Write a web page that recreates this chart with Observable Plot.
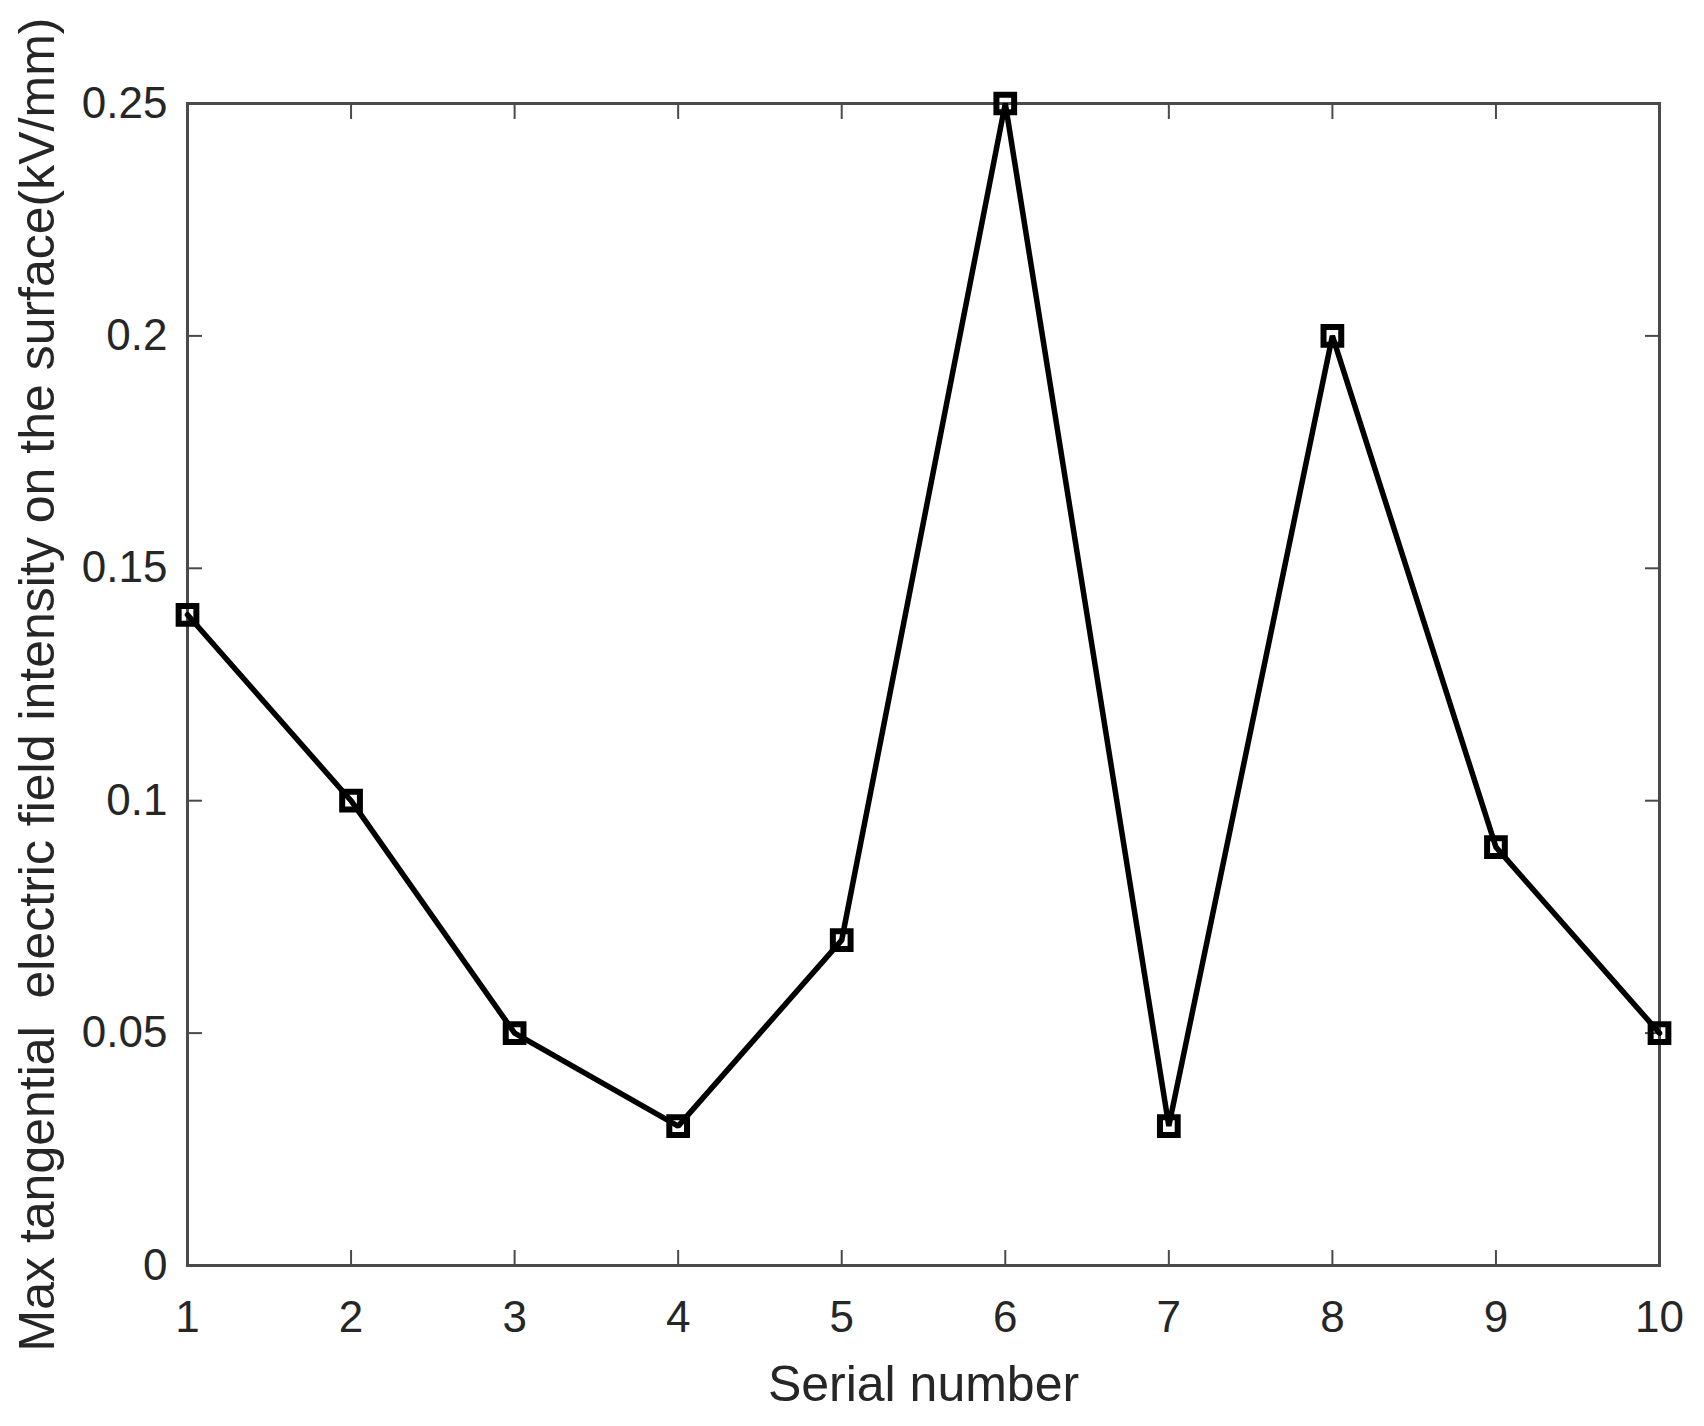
<!DOCTYPE html>
<html><head><meta charset="utf-8">
<script src="https://cdn.jsdelivr.net/npm/d3@7"></script>
<script src="https://cdn.jsdelivr.net/npm/@observablehq/plot@0.6"></script>
<style>
html,body{margin:0;padding:0;background:#fff;}
svg text{white-space:pre;}
</style></head><body><div id="chart"></div>
<script>
const serial = [1, 2, 3, 4, 5, 6, 7, 8, 9, 10];
const intensity = [0.14, 0.10, 0.05, 0.03, 0.07, 0.25, 0.03, 0.20, 0.09, 0.05];
const xTicks = [1, 2, 3, 4, 5, 6, 7, 8, 9, 10];
const xTickLabels = ["1", "2", "3", "4", "5", "6", "7", "8", "9", "10"];
const yTicks = [0, 0.05, 0.1, 0.15, 0.2, 0.25];
const yTickLabels = ["0", "0.05", "0.1", "0.15", "0.2", "0.25"];
const xLabel = "Serial number";
const yLabel = "Max tangential  electric field intensity on the surface(kV/mm)";

const data = serial.map((s, i) => ({s, v: intensity[i]}));
const axisStroke = "#4a4a4a";
const textColor = "#262626";

const chart = Plot.plot({
  width: 1704, height: 1426,
  marginLeft: 187, marginRight: 45, marginTop: 103, marginBottom: 161,
  style: {fontFamily: "'Liberation Sans', Arial, sans-serif", background: "#fff", color: textColor},
  x: {domain: [1, 10]},
  y: {domain: [0, 0.25]},
  marks: [
    Plot.axisX(xTicks, {anchor: "bottom", tickSize: -15, tickPadding: 50, fontSize: 44, stroke: axisStroke, strokeWidth: 2, fill: textColor, label: null,
      tickFormat: d => xTickLabels[xTicks.indexOf(d)]}),
    Plot.axisX(xTicks, {anchor: "top", tickSize: -15, stroke: axisStroke, strokeWidth: 2, fill: "none", label: null}),
    Plot.axisY(yTicks, {anchor: "left", tickSize: -15, tickPadding: 35, fontSize: 44, stroke: axisStroke, strokeWidth: 2, fill: textColor, label: null,
      tickFormat: d => yTickLabels[yTicks.indexOf(d)]}),
    Plot.axisY(yTicks, {anchor: "right", tickSize: -15, stroke: axisStroke, strokeWidth: 2, fill: "none", label: null}),
    Plot.frame({stroke: axisStroke, strokeWidth: 3}),
    Plot.text([xLabel], {text: d => d, frameAnchor: "bottom", textAnchor: "middle", lineAnchor: "top", dy: 100, fontSize: 50, fill: textColor}),
    Plot.text([yLabel], {text: d => d, frameAnchor: "left", textAnchor: "middle", rotate: -90, lineAnchor: "top", dx: -169, fontSize: 50, fill: textColor}),
    Plot.line(data, {x: "s", y: "v", stroke: "#000", strokeWidth: 5.5, strokeLinejoin: "miter"}),
    Plot.dot(data, {x: "s", y: "v", symbol: "square", r: 10, stroke: "#000", strokeWidth: 6, fill: "none"})
  ]
});
document.getElementById("chart").appendChild(chart);
</script>
</body></html>
